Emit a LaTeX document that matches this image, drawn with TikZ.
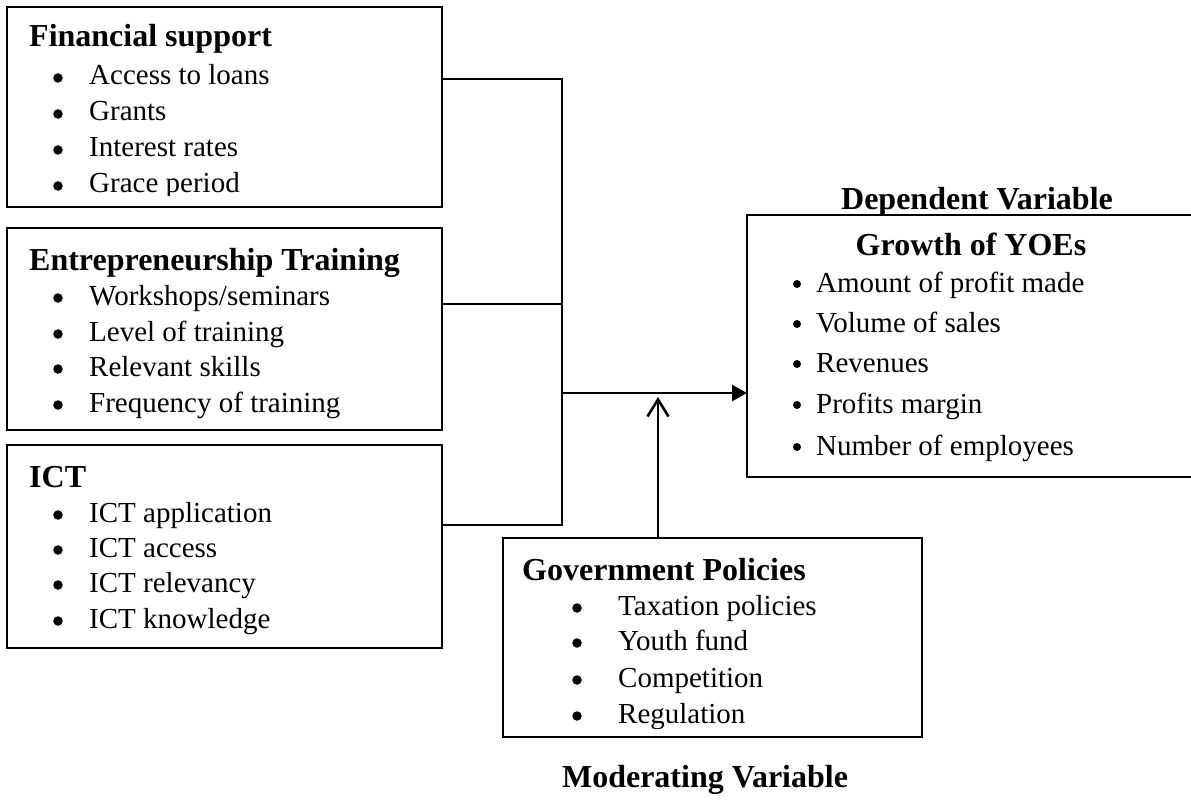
\documentclass[tikz,border=0pt]{standalone}
\usepackage{fontspec}
\setmainfont{Liberation Serif}
\usetikzlibrary{arrows.meta}
\begin{document}
\begin{tikzpicture}[x=1pt,y=-1pt,
  frame/.style={draw, line width=2.3pt, anchor=north west, inner sep=0pt, outer sep=0pt},
  head/.style={anchor=base west, inner sep=0pt, font=\fontsize{32}{38}\selectfont\bfseries},
  headc/.style={anchor=base, inner sep=0pt, font=\fontsize{32}{38}\selectfont\bfseries},
  item/.style={anchor=base west, inner sep=0pt, font=\fontsize{29}{35}\selectfont},
  dot/.style={circle, fill, inner sep=0pt, minimum size=9.5pt},
  smalldot/.style={circle, fill, inner sep=0pt, minimum size=8pt},
  link/.style={line width=2pt},
  mainlink/.style={line width=2.8pt, -{Triangle[length=15pt,width=16pt]}},
  modlink/.style={line width=2.6pt, -{Straight Barb[length=17pt,width=21pt]}}
]
\useasboundingbox (0,0) rectangle (1191,805);

% independent variable boxes
\node[frame, minimum width=435pt, minimum height=200pt] (fin) at (7,7) {};
\node[frame, minimum width=435pt, minimum height=202pt] (train) at (7,228) {};
\node[frame, minimum width=435pt, minimum height=203pt] (ict) at (7,445) {};

% dependent and moderating variable boxes
\node[frame, minimum width=460pt, minimum height=262pt] (growth) at (747,215) {};
\node[frame, minimum width=419pt, minimum height=199pt] (gov) at (503,538) {};

% Financial support
\node[head] (finh) at (29,47) {Financial support};
\begin{scope}
  \clip (0,0) rectangle (442,196);
  \foreach \t/\yy [count=\i] in {Access to loans/85, Grants/121, Interest rates/157, Grace period/193}{
    \node[dot] (finb\i) at (58,\yy-7) {};
    \node[item] (fint\i) at (89,\yy) {\t};
  }
\end{scope}

% Entrepreneurship Training
\node[head] (trainh) at (29,270) {Entrepreneurship Training};
\foreach \t/\yy [count=\i] in {{Workshops/seminars}/305, Level of training/341, Relevant skills/376, Frequency of training/412}{
  \node[dot] (trainb\i) at (58,\yy-7) {};
  \node[item] (traint\i) at (89,\yy) {\t};
}

% ICT
\node[head] (icth) at (29,487) {ICT};
\foreach \t/\yy [count=\i] in {ICT application/522, ICT access/557, ICT relevancy/592, ICT knowledge/628}{
  \node[dot] (ictb\i) at (58,\yy-7) {};
  \node[item] (ictt\i) at (89,\yy) {\t};
}

% Growth of YOEs
\node[headc] (deplabel) at (977,210) {Dependent Variable};
\node[headc] (growthh) at (971,255) {Growth of YOEs};
\foreach \t/\yy [count=\i] in {Amount of profit made/292, Volume of sales/332, Revenues/372, Profits margin/413, Number of employees/455}{
  \node[smalldot] (growthb\i) at (797,\yy-8) {};
  \node[item] (growtht\i) at (816,\yy) {\t};
}

% Government Policies
\node[head] (govh) at (522,580) {Government Policies};
\begin{scope}
  \clip (0,0) rectangle (1191,728);
  \foreach \t/\yy [count=\i] in {Taxation policies/615, Youth fund/650, Competition/687, Regulation/723}{
    \node[dot] (govb\i) at (577,\yy-7) {};
    \node[item] (govt\i) at (618,\yy) {\t};
  }
\end{scope}
\node[headc] (modlabel) at (705,787) {Moderating Variable};

% connectors
\coordinate (j1) at (562,79);
\coordinate (j2) at (562,304);
\coordinate (j3) at (562,525);
\coordinate (jm) at (562,393);
\coordinate (mtip) at (658,397);

\draw[link] (j1 -| fin.east) -- (j1) -- (j3) -- (j3 -| ict.east);
\draw[link] (j2 -| train.east) -- (j2);
\draw[mainlink] (jm) -- (jm -| growth.west);
\draw[modlink] (mtip |- gov.north) -- (mtip);
\end{tikzpicture}
\end{document}
